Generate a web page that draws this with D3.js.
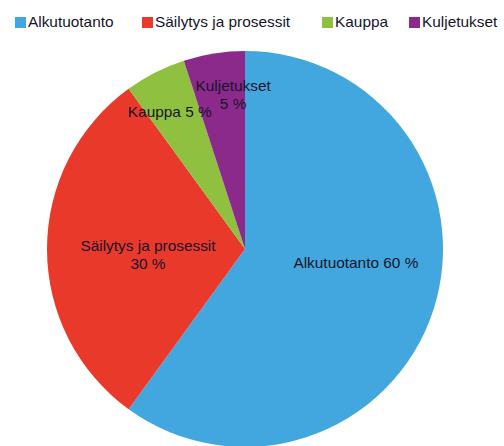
<!DOCTYPE html>
<html><head><meta charset="utf-8">
<script src="https://cdn.jsdelivr.net/npm/d3@7"></script>
<style>body{margin:0;background:#fff}svg{display:block}</style>
</head><body>
<svg id="c" width="504" height="446"></svg>
<script>
const categories = ["Alkutuotanto", "Säilytys ja prosessit", "Kauppa", "Kuljetukset"];
const values = [60, 30, 5, 5];
const colors = ["#43a7df", "#e9392b", "#8fc03f", "#8c2a8c"];
const labelLines = [["Alkutuotanto 60 %"], ["Säilytys ja prosessit", "30 %"], ["Kauppa 5 %"], ["Kuljetukset", "5 %"]];

const svg = d3.select("#c");
const cx = 245, cy = 249, R = 198;
const g = svg.append("g").attr("transform", `translate(${cx},${cy})`);
const pie = d3.pie().sort(null).value(d => d)(values);
const arc = d3.arc().innerRadius(0).outerRadius(R);
g.selectAll("path").data(pie).join("path")
  .attr("d", arc).attr("fill", (d, i) => colors[i]);

// label positions relative to centre (fractions of radius)
const labelPos = [[0.56, 0.07], [-0.49, 0.03], [-0.38, -0.69], [-0.06, -0.78]];
const fs = 14, sx = 1.1;
labelPos.forEach((p, i) => {
  const lines = labelLines[i];
  const x = p[0] * R, y = p[1] * R;
  const t = g.append("g").attr("transform", `translate(${x},${y}) scale(${sx},1)`)
    .append("text").attr("text-anchor", "middle")
    .attr("font-family", "Liberation Sans, Arial, sans-serif").attr("font-size", fs)
    .attr("fill", "#15152a");
  const n = lines.length;
  lines.forEach((l, j) => {
    t.append("tspan").attr("x", 0).attr("y", (j - (n - 1) / 2) * 18 + 5).text(l);
  });
});

// legend
const legendX = [15, 142, 322, 409];
const lg = svg.append("g");
categories.forEach((c, i) => {
  lg.append("rect").attr("x", legendX[i]).attr("y", 17).attr("width", 11).attr("height", 11).attr("fill", colors[i]);
  lg.append("g").attr("transform", `translate(${legendX[i] + 13},27) scale(${sx},1)`)
    .append("text").attr("font-family", "Liberation Sans, Arial, sans-serif").attr("font-size", fs)
    .attr("fill", "#15152a").text(c);
});
</script>
</body></html>
